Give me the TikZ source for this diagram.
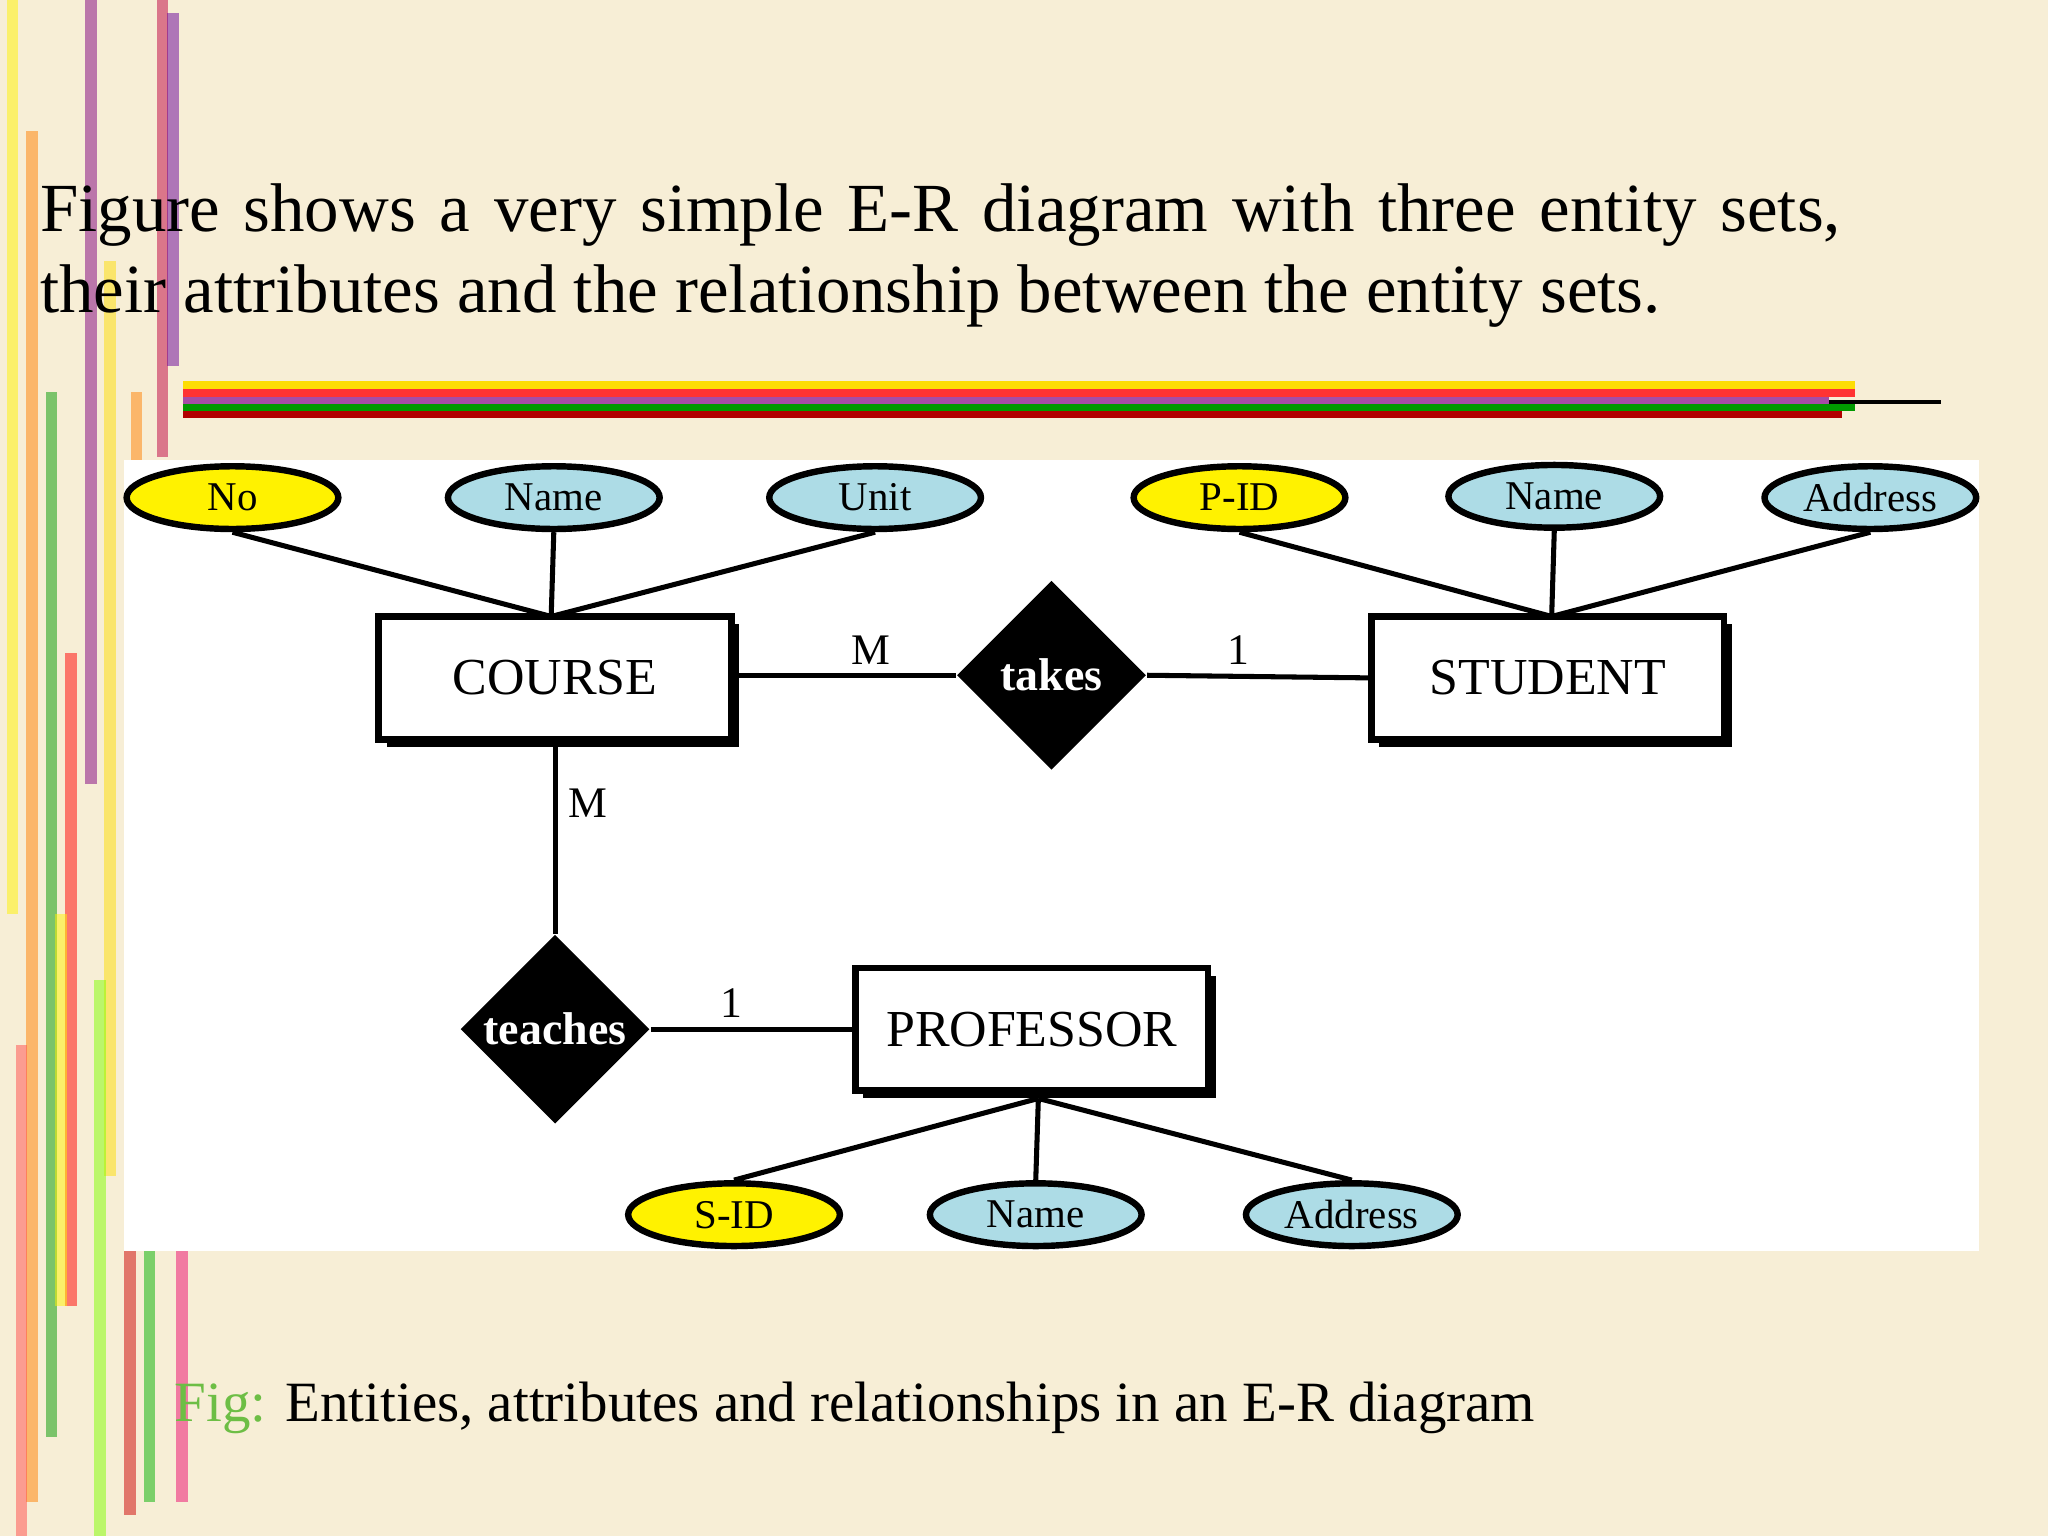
\documentclass[tikz,border=0pt]{standalone}
\usepackage{fontspec}
\setmainfont{Liberation Serif}
\usetikzlibrary{shapes.geometric}
\definecolor{bg}{HTML}{F7EED6}
\definecolor{attblue}{HTML}{ADDCE6}
\definecolor{attyel}{HTML}{FFF200}
\definecolor{figgreen}{HTML}{6DBE45}
\tikzset{
  attr/.style={ellipse, draw, line width=1.4pt, minimum width=1.62cm, minimum height=0.48cm, inner sep=0pt, font=\fontsize{8.9}{10}\selectfont},
  attb/.style={attr, fill=attblue},
  atty/.style={attr, fill=attyel},
  ent/.style={draw, line width=1.4pt, fill=white, minimum width=2.7cm, minimum height=0.94cm, font=\fontsize{11.3}{13}\selectfont},
  shadowbox/.style={fill=black},
  rel/.style={diamond, fill=black, text=white, minimum width=1.45cm, minimum height=1.45cm, inner sep=0pt, font=\bfseries\fontsize{10}{12}\selectfont},
  conn/.style={line width=1.1pt},
  card/.style={font=\fontsize{9.5}{11}\selectfont}
}
\begin{document}
\begin{tikzpicture}[x=0.01cm,y=-0.01cm]
\fill[bg] (0,0) rectangle (1568,1176);
% left brush stripes
\foreach \x/\c/\a/\b in {5/yellow/0/700, 20/orange/100/1150, 35/green!60!black/300/1100, 50/red/500/1000, 65/violet/0/600, 80/yellow!80!orange/200/900, 95/red!80!black/600/1160, 110/green!70!black/700/1150, 120/purple/0/350, 135/magenta!70!red/950/1150, 12/red!70/800/1176, 42/yellow/700/1000, 72/green!50!yellow/750/1176, 100/orange/300/600, 128/violet!80!blue/10/280}
  \fill[\c, opacity=0.5] (\x,\a) rectangle ++(9,\b-\a);
% horizontal stripe
\fill[yellow!80!orange] (140,292) rectangle (1420,298);
\fill[red!80] (140,298) rectangle (1420,304);
\fill[violet!70] (140,304) rectangle (1400,309);
\fill[green!60!black] (140,309) rectangle (1420,315);
\fill[red!70!black] (140,315) rectangle (1410,320);
\fill[black] (1400,306) rectangle (1486,309);
% title
\node[anchor=north west, align=left, inner sep=0pt, font=\fontsize{15}{17.6}\selectfont] (title) at (30,140)
 {\makebox[13.78cm][s]{Figure shows a very simple E-R diagram with three entity sets,}\\their attributes and the relationship between the entity sets.};
% panel
\fill[white] (95,352) rectangle (1515,958);
% attributes
\node[atty] (a1) at (178,381) {No};
\node[attb] (a2) at (424,381) {Name};
\node[attb] (a3) at (670,381) {Unit};
\node[atty] (b1) at (949,381) {P-ID};
\node[attb] (b2) at (1190,380) {Name};
\node[attb] (b3) at (1432,381) {Address};
\node[atty] (c1) at (562,930) {S-ID};
\node[attb] (c2) at (793,930) {Name};
\node[attb] (c3) at (1035,930) {Address};
% entities with shadows
\fill[shadowbox] (296,478) rectangle (566,572);
\node[ent] (course) at (425,519) {COURSE};
\fill[shadowbox] (1056,478) rectangle (1326,572);
\node[ent] (student) at (1185,519) {STUDENT};
\fill[shadowbox] (661,747) rectangle (931,841);
\node[ent] (prof) at (790,788) {PROFESSOR};
% relationships
\node[rel] (takes) at (805,517) {takes};
\node[rel] (teaches) at (425,788) {teaches};
% connectors
\coordinate (ct) at (422,472);
\coordinate (st) at (1188,472);
\coordinate (pb) at (795,841);
\draw[conn] (a1.south) -- (ct); \draw[conn] (a2.south) -- (ct); \draw[conn] (a3.south) -- (ct);
\draw[conn] (b1.south) -- (st); \draw[conn] (b2.south) -- (st); \draw[conn] (b3.south) -- (st);
\draw[conn] (c1.north) -- (pb); \draw[conn] (c2.north) -- (pb); \draw[conn] (c3.north) -- (pb);
\draw[conn] (566,517) -- (takes.west);
\draw[conn] (takes.east) -- (student.west);
\draw[conn] (425,572) -- (teaches.north);
\draw[conn] (teaches.east) -- (prof.west);
\node[card] (m1) at (667,498) {M};
\node[card] (o1) at (948,498) {1};
\node[card] (m2) at (450,615) {M};
\node[card] (o2) at (560,768) {1};
% caption
\node[anchor=west, inner sep=0pt, font=\fontsize{12.4}{14}\selectfont] (cap) at (133,1078)
 {\textcolor{figgreen}{Fig:} Entities, attributes and relationships in an E-R diagram};
\end{tikzpicture}
\end{document}
